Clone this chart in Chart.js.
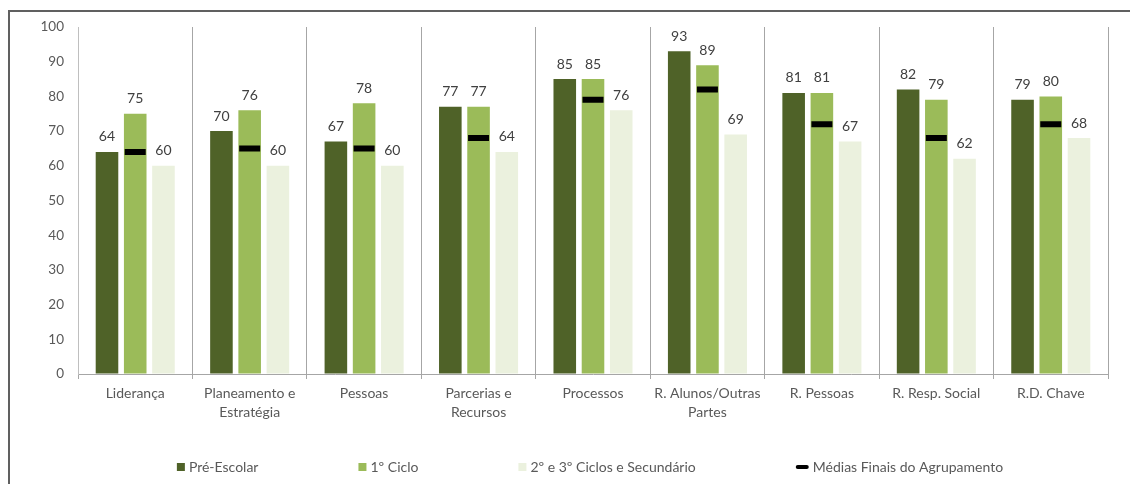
<!DOCTYPE html>
<html>
<head>
<meta charset="utf-8">
<script src="https://cdn.jsdelivr.net/npm/chart.js@4.4.1/dist/chart.umd.min.js"></script>
<style>
  html, body { margin: 0; padding: 0; background: #ffffff; }
  #wrap { position: relative; width: 1130px; height: 484px; overflow: hidden; background: #ffffff; }
  #frame { position: absolute; left: 8px; top: 10px; width: 1200px; height: 600px;
           border-left: 2px solid #606060; border-top: 2px solid #606060; }
  canvas { position: absolute; left: 0; top: 0; }
</style>
</head>
<body>
<div id="wrap">
  <div id="frame"></div>
  <canvas id="chart" width="1130" height="484"></canvas>
</div>
<script>
// Categories (multi-line labels as arrays)
const categories = [
  ['Liderança'],
  ['Planeamento e', 'Estratégia'],
  ['Pessoas'],
  ['Parcerias e', 'Recursos'],
  ['Processos'],
  ['R. Alunos/Outras', 'Partes'],
  ['R. Pessoas'],
  ['R. Resp. Social'],
  ['R.D. Chave']
];

// Series values
const preEscolar      = [64, 70, 67, 77, 85, 93, 81, 82, 79];
const primeiroCiclo   = [75, 76, 78, 77, 85, 89, 81, 79, 80];
const segundoTerceiro = [60, 60, 60, 64, 76, 69, 67, 62, 68];
const mediasFinais    = [64, 65, 65, 68, 79, 82, 72, 68, 72];

// Series names
const seriesNames = ['Pré-Escolar', '1º Ciclo', '2º e 3º Ciclos e Secundário', 'Médias Finais do Agrupamento'];

// Value axis
const yMin = 0, yMax = 100, yStep = 10;

const FONT = 'Lato, "Noto Sans", sans-serif';
const TEXT = '#595959';

// Value labels above each bar
const barLabels = {
  id: 'barLabels',
  afterDatasetsDraw(chart) {
    const ctx = chart.ctx;
    ctx.save();
    ctx.font = '14px ' + FONT;
    ctx.fillStyle = '#404040';
    ctx.textAlign = 'center';
    ctx.textBaseline = 'middle';
    chart.data.datasets.forEach((ds, i) => {
      if (ds.type === 'line') return;
      const meta = chart.getDatasetMeta(i);
      meta.data.forEach((el, j) => {
        ctx.fillText(String(ds.data[j]), el.x, el.y - 15);
      });
    });
    ctx.restore();
  }
};

// Legend spread along the bottom with equal gaps between entries
const spreadLegend = {
  id: 'spreadLegend',
  afterDraw(chart, args, opts) {
    const ctx = chart.ctx;
    ctx.save();
    ctx.font = '14px ' + FONT;
    ctx.textBaseline = 'middle';
    ctx.textAlign = 'left';
    const items = chart.data.datasets.map(ds => ({
      text: ds.label,
      color: ds.type === 'line' ? ds.borderColor : ds.backgroundColor,
      marker: ds.type === 'line'
    }));
    const symW = it => (it.marker ? 13 : 8);
    const gapText = 4;
    const widths = items.map(it => symW(it) + gapText + ctx.measureText(it.text).width);
    const total = widths.reduce((a, b) => a + b, 0) + opts.gap * (items.length - 1);
    let x = opts.centerX - total / 2;
    const y = opts.y;
    items.forEach((it, k) => {
      if (it.marker) {
        ctx.strokeStyle = it.color;
        ctx.lineWidth = 4;
        ctx.lineCap = 'round';
        ctx.beginPath();
        ctx.moveTo(x + 2, y);
        ctx.lineTo(x + 11, y);
        ctx.stroke();
      } else {
        ctx.fillStyle = it.color;
        ctx.fillRect(x, y - 4, 8, 8);
      }
      ctx.fillStyle = TEXT;
      ctx.fillText(it.text, x + symW(it) + gapText, y);
      x += widths[k] + opts.gap;
    });
    ctx.restore();
  }
};

new Chart(document.getElementById('chart'), {
  type: 'bar',
  data: {
    labels: categories,
    datasets: [
      { label: seriesNames[0], data: preEscolar, backgroundColor: '#4F6228', order: 1,
        categoryPercentage: 0.74, barPercentage: 0.80 },
      { label: seriesNames[1], data: primeiroCiclo, backgroundColor: '#9BBB59', order: 1,
        categoryPercentage: 0.74, barPercentage: 0.80 },
      { label: seriesNames[2], data: segundoTerceiro, backgroundColor: '#EBF1DE', order: 1,
        categoryPercentage: 0.74, barPercentage: 0.80 },
      { type: 'line', label: seriesNames[3], data: mediasFinais, showLine: false,
        borderColor: '#000000', backgroundColor: '#000000', order: 0,
        pointStyle: 'line', pointRadius: 10.5, pointHoverRadius: 10.5,
        pointBorderWidth: 6, pointHoverBorderWidth: 6 }
    ]
  },
  options: {
    responsive: false,
    animation: false,
    devicePixelRatio: 1,
    layout: { padding: { left: 0, right: 22, top: 27, bottom: 0 } },
    plugins: {
      legend: { display: false },
      tooltip: { enabled: false },
      spreadLegend: { centerX: 590, y: 467, gap: 100 }
    },
    scales: {
      x: {
        offset: true,
        grid: { display: true, offset: true, drawOnChartArea: true, drawTicks: true,
                tickLength: 5, color: '#A6A6A6', lineWidth: 1 },
        border: { display: true, color: '#A6A6A6', width: 1 },
        ticks: { color: TEXT, font: { family: FONT, size: 14, lineHeight: 1.35 },
                 padding: 5, maxRotation: 0, autoSkip: false },
        afterFit(scale) { scale.height = 110; }
      },
      y: {
        min: yMin, max: yMax,
        grid: { display: true, drawOnChartArea: false, drawTicks: false },
        border: { display: true, color: '#BFBFBF', width: 1 },
        ticks: { stepSize: yStep, color: TEXT, font: { family: FONT, size: 13.5 }, padding: 14 },
        afterFit(scale) { scale.width = 78; }
      }
    }
  },
  plugins: [barLabels, spreadLegend]
});
</script>
</body>
</html>
